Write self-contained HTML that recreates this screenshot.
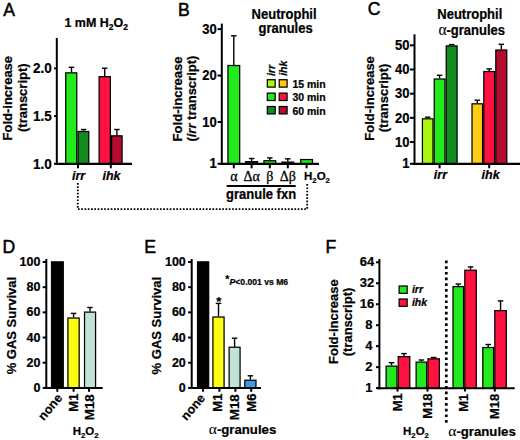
<!DOCTYPE html>
<html><head><meta charset="utf-8"><style>
html,body{margin:0;padding:0;background:#fff;}
svg{display:block;}
text{fill:#000;}
text[font-weight="bold"]{stroke:#000;stroke-width:0.22px;}
</style></head><body>
<svg width="520" height="440" viewBox="0 0 520 440">
<rect width="520" height="440" fill="#fff"/>
<text x="3.2" y="15.6" font-family="Liberation Sans" font-size="17.6" font-weight="normal" font-style="normal" text-anchor="start" stroke="#000" stroke-width="0.5">A</text>
<text x="96.2" y="27.0" font-family="Liberation Sans" font-size="12.5" font-weight="bold" font-style="normal" text-anchor="middle" transform="translate(96.2 27.0) scale(1 1.05) translate(-96.2 -27.0)" >1 mM H<tspan font-size="8.5" dy="3.0">2</tspan><tspan dy="-3.0">O</tspan><tspan font-size="8.5" dy="3.0">2</tspan></text>
<rect x="65.72" y="72.84" width="11.05" height="90.96" fill="#22ea1c" stroke="#000" stroke-width="1.25"/>
<line x1="71.5" y1="72.21600000000001" x2="71.5" y2="67.3" stroke="#000" stroke-width="1.4" />
<line x1="68.75" y1="67.3" x2="74.25" y2="67.3" stroke="#000" stroke-width="1.4" />
<rect x="78.03" y="131.51" width="10.75" height="32.29" fill="#138c1f" stroke="#000" stroke-width="1.25"/>
<line x1="83.6" y1="130.887" x2="83.6" y2="129.5" stroke="#000" stroke-width="1.4" />
<line x1="80.85" y1="129.5" x2="86.35" y2="129.5" stroke="#000" stroke-width="1.4" />
<rect x="99.12" y="76.66" width="11.25" height="87.14" fill="#ff1240" stroke="#000" stroke-width="1.25"/>
<line x1="104.7" y1="76.03200000000001" x2="104.7" y2="68.2" stroke="#000" stroke-width="1.4" />
<line x1="101.95" y1="68.2" x2="107.45" y2="68.2" stroke="#000" stroke-width="1.4" />
<rect x="111.62" y="135.81" width="10.45" height="28.00" fill="#b50c30" stroke="#000" stroke-width="1.25"/>
<line x1="116.9" y1="135.18" x2="116.9" y2="129.5" stroke="#000" stroke-width="1.4" />
<line x1="114.15" y1="129.5" x2="119.65" y2="129.5" stroke="#000" stroke-width="1.4" />
<line x1="56.8" y1="38" x2="56.8" y2="164.8" stroke="#000" stroke-width="2" />
<line x1="55.8" y1="163.8" x2="132" y2="163.8" stroke="#000" stroke-width="2.2" />
<line x1="54.0" y1="163.8" x2="56.8" y2="163.8" stroke="#000" stroke-width="2" />
<text x="51.7" y="168.66" font-family="Liberation Sans" font-size="13.5" font-weight="bold" font-style="normal" text-anchor="end" transform="translate(51.7 168.66) scale(1 1.08) translate(-51.7 -168.66)" >1.0</text>
<line x1="54.0" y1="116.10000000000001" x2="56.8" y2="116.10000000000001" stroke="#000" stroke-width="2" />
<text x="51.7" y="120.96" font-family="Liberation Sans" font-size="13.5" font-weight="bold" font-style="normal" text-anchor="end" transform="translate(51.7 120.96) scale(1 1.08) translate(-51.7 -120.96)" >1.5</text>
<line x1="54.0" y1="68.4" x2="56.8" y2="68.4" stroke="#000" stroke-width="2" />
<text x="51.7" y="73.26" font-family="Liberation Sans" font-size="13.5" font-weight="bold" font-style="normal" text-anchor="end" transform="translate(51.7 73.26) scale(1 1.08) translate(-51.7 -73.26)" >2.0</text>
<line x1="78.0" y1="163.8" x2="78.0" y2="168.3" stroke="#000" stroke-width="2" />
<line x1="110.8" y1="163.8" x2="110.8" y2="168.3" stroke="#000" stroke-width="2" />
<text x="78.6" y="179.5" font-family="Liberation Sans" font-size="12.5" font-weight="bold" font-style="italic" text-anchor="middle" >irr</text>
<text x="111.5" y="179.5" font-family="Liberation Sans" font-size="12.5" font-weight="bold" font-style="italic" text-anchor="middle" >ihk</text>
<text x="12.3" y="98.2" font-family="Liberation Sans" font-size="13" font-weight="bold" font-style="normal" text-anchor="middle" transform="rotate(-90 12.3 98.2)" >Fold-increase</text>
<text x="26.6" y="97.7" font-family="Liberation Sans" font-size="13" font-weight="bold" font-style="normal" text-anchor="middle" transform="rotate(-90 26.6 97.7)" >(transcript)</text>
<text x="178.1" y="15.6" font-family="Liberation Sans" font-size="17.6" font-weight="normal" font-style="normal" text-anchor="start" stroke="#000" stroke-width="0.5">B</text>
<text x="284.1" y="18.9" font-family="Liberation Sans" font-size="13" font-weight="bold" font-style="normal" text-anchor="middle" transform="translate(284.1 18.9) scale(1 1.1) translate(-284.1 -18.9)" >Neutrophil</text>
<text x="285.6" y="33.5" font-family="Liberation Sans" font-size="13" font-weight="bold" font-style="normal" text-anchor="middle" transform="translate(285.6 33.5) scale(1 1.1) translate(-285.6 -33.5)" >granules</text>
<rect x="227.93" y="65.51" width="11.75" height="98.29" fill="#22ea1c" stroke="#000" stroke-width="1.25"/>
<line x1="233.8" y1="64.8828" x2="233.8" y2="35.8" stroke="#000" stroke-width="1.4" />
<line x1="231.05" y1="35.8" x2="236.55" y2="35.8" stroke="#000" stroke-width="1.4" />
<rect x="245.72" y="161.64" width="11.75" height="2.16" fill="#1a3a14" stroke="#000" stroke-width="1.25"/>
<line x1="251.6" y1="161.0136" x2="251.6" y2="158.5" stroke="#000" stroke-width="1.4" />
<line x1="248.85" y1="158.5" x2="254.35" y2="158.5" stroke="#000" stroke-width="1.4" />
<rect x="263.93" y="160.71" width="11.75" height="3.09" fill="#22ea1c" stroke="#000" stroke-width="1.25"/>
<line x1="269.8" y1="160.0848" x2="269.8" y2="157.9" stroke="#000" stroke-width="1.4" />
<line x1="267.05" y1="157.9" x2="272.55" y2="157.9" stroke="#000" stroke-width="1.4" />
<rect x="281.93" y="162.10" width="11.75" height="1.70" fill="#1a3a14" stroke="#000" stroke-width="1.25"/>
<line x1="287.8" y1="161.478" x2="287.8" y2="158.8" stroke="#000" stroke-width="1.4" />
<line x1="285.05" y1="158.8" x2="290.55" y2="158.8" stroke="#000" stroke-width="1.4" />
<rect x="300.73" y="159.55" width="11.75" height="4.25" fill="#22ea1c" stroke="#000" stroke-width="1.25"/>
<line x1="221.8" y1="23.6" x2="221.8" y2="164.8" stroke="#000" stroke-width="2" />
<line x1="220.8" y1="163.8" x2="319" y2="163.8" stroke="#000" stroke-width="2.2" />
<line x1="217.60000000000002" y1="163.8" x2="221.8" y2="163.8" stroke="#000" stroke-width="2" />
<text x="216.7" y="168.48" font-family="Liberation Sans" font-size="13" font-weight="bold" font-style="normal" text-anchor="end" transform="translate(216.7 168.48) scale(1 1.08) translate(-216.7 -168.48)" >1</text>
<line x1="217.60000000000002" y1="122.00400000000002" x2="221.8" y2="122.00400000000002" stroke="#000" stroke-width="2" />
<text x="216.7" y="126.68" font-family="Liberation Sans" font-size="13" font-weight="bold" font-style="normal" text-anchor="end" transform="translate(216.7 126.68) scale(1 1.08) translate(-216.7 -126.68)" >10</text>
<line x1="217.60000000000002" y1="75.56400000000001" x2="221.8" y2="75.56400000000001" stroke="#000" stroke-width="2" />
<text x="216.7" y="80.24" font-family="Liberation Sans" font-size="13" font-weight="bold" font-style="normal" text-anchor="end" transform="translate(216.7 80.24) scale(1 1.08) translate(-216.7 -80.24)" >20</text>
<line x1="217.60000000000002" y1="29.123999999999995" x2="221.8" y2="29.123999999999995" stroke="#000" stroke-width="2" />
<text x="216.7" y="33.8" font-family="Liberation Sans" font-size="13" font-weight="bold" font-style="normal" text-anchor="end" transform="translate(216.7 33.8) scale(1 1.08) translate(-216.7 -33.8)" >30</text>
<line x1="233.8" y1="163.8" x2="233.8" y2="168.3" stroke="#000" stroke-width="2" />
<line x1="251.6" y1="163.8" x2="251.6" y2="168.3" stroke="#000" stroke-width="2" />
<line x1="269.8" y1="163.8" x2="269.8" y2="168.3" stroke="#000" stroke-width="2" />
<line x1="287.8" y1="163.8" x2="287.8" y2="168.3" stroke="#000" stroke-width="2" />
<line x1="306.6" y1="163.8" x2="306.6" y2="168.3" stroke="#000" stroke-width="2" />
<text x="233.8" y="180.8" font-family="Liberation Serif" font-size="14" font-weight="normal" font-style="normal" text-anchor="middle" stroke="#000" stroke-width="0.3">α</text>
<text x="251.6" y="180.8" font-family="Liberation Serif" font-size="14" font-weight="normal" font-style="normal" text-anchor="middle" stroke="#000" stroke-width="0.3">Δα</text>
<text x="269.8" y="180.8" font-family="Liberation Serif" font-size="14" font-weight="normal" font-style="normal" text-anchor="middle" stroke="#000" stroke-width="0.3">β</text>
<text x="287.8" y="180.8" font-family="Liberation Serif" font-size="14" font-weight="normal" font-style="normal" text-anchor="middle" stroke="#000" stroke-width="0.3">Δβ</text>
<text x="304" y="180.4" font-family="Liberation Sans" font-size="11.5" font-weight="bold" font-style="normal" text-anchor="start" >H<tspan font-size="7.8" dy="2.8">2</tspan><tspan dy="-2.8">O</tspan><tspan font-size="7.8" dy="2.8">2</tspan></text>
<line x1="226.7" y1="185.9" x2="295.7" y2="185.9" stroke="#000" stroke-width="2" />
<text x="261.1" y="199.1" font-family="Liberation Sans" font-size="13" font-weight="bold" font-style="normal" text-anchor="middle" transform="translate(261.1 199.1) scale(1 1.12) translate(-261.1 -199.1)" >granule fxn</text>
<text x="182.3" y="98.9" font-family="Liberation Sans" font-size="13.1" font-weight="bold" font-style="normal" text-anchor="middle" transform="rotate(-90 182.3 98.9)" >Fold-increase</text>
<text x="195.6" y="98.6" font-family="Liberation Sans" font-size="13" font-weight="bold" font-style="normal" text-anchor="middle" transform="rotate(-90 195.6 98.6)" >(<tspan font-style="italic">irr</tspan> transcript)</text>
<text x="275.0" y="76.1" font-family="Liberation Sans" font-size="10.5" font-weight="bold" font-style="italic" text-anchor="start" transform="rotate(-90 275.0 76.1)" >irr</text>
<text x="286.9" y="75.8" font-family="Liberation Sans" font-size="10.5" font-weight="bold" font-style="italic" text-anchor="start" transform="rotate(-90 286.9 75.8)" >ihk</text>
<rect x="267.32" y="79.72" width="7.85" height="7.38" fill="#aaf812" stroke="#000" stroke-width="1.25"/>
<rect x="279.23" y="79.72" width="7.85" height="7.38" fill="#ffcc12" stroke="#000" stroke-width="1.25"/>
<text x="292.4" y="88.0" font-family="Liberation Sans" font-size="10.5" font-weight="bold" font-style="normal" text-anchor="start" >15 min</text>
<rect x="267.32" y="93.12" width="7.85" height="7.38" fill="#22ea1c" stroke="#000" stroke-width="1.25"/>
<rect x="279.23" y="93.12" width="7.85" height="7.38" fill="#ff1240" stroke="#000" stroke-width="1.25"/>
<text x="292.4" y="101.4" font-family="Liberation Sans" font-size="10.5" font-weight="bold" font-style="normal" text-anchor="start" >30 min</text>
<rect x="267.32" y="106.53" width="7.85" height="7.38" fill="#138c1f" stroke="#000" stroke-width="1.25"/>
<rect x="279.23" y="106.53" width="7.85" height="7.38" fill="#b50c30" stroke="#000" stroke-width="1.25"/>
<text x="292.4" y="114.80000000000001" font-family="Liberation Sans" font-size="10.5" font-weight="bold" font-style="normal" text-anchor="start" >60 min</text>
<polyline points="77.8,183 77.8,209.1 307.2,209.1 307.2,183.6" fill="none" stroke="#000" stroke-width="1.8" stroke-dasharray="1.7 1.58"/>
<text x="367.8" y="15.0" font-family="Liberation Sans" font-size="17.6" font-weight="normal" font-style="normal" text-anchor="start" stroke="#000" stroke-width="0.5">C</text>
<text x="469.8" y="18.9" font-family="Liberation Sans" font-size="13" font-weight="bold" font-style="normal" text-anchor="middle" transform="translate(469.8 18.9) scale(1 1.1) translate(-469.8 -18.9)" >Neutrophil</text>
<text x="471.7" y="34.9" font-family="Liberation Sans" font-size="13" font-weight="bold" font-style="normal" text-anchor="middle" transform="translate(471.7 34.9) scale(1 1.1) translate(-471.7 -34.9)" ><tspan font-family="Liberation Serif" font-weight="normal" font-size="15.5" style="stroke-width:0.1px">α</tspan>-granules</text>
<rect x="422.43" y="118.83" width="10.55" height="44.98" fill="#aaf812" stroke="#000" stroke-width="1.25"/>
<line x1="427.70000000000005" y1="118.2" x2="427.70000000000005" y2="117.2" stroke="#000" stroke-width="1.4" />
<line x1="424.95000000000005" y1="117.2" x2="430.45000000000005" y2="117.2" stroke="#000" stroke-width="1.4" />
<rect x="434.23" y="79.03" width="10.75" height="84.78" fill="#22ea1c" stroke="#000" stroke-width="1.25"/>
<line x1="439.6" y1="78.4" x2="439.6" y2="75.3" stroke="#000" stroke-width="1.4" />
<line x1="436.85" y1="75.3" x2="442.35" y2="75.3" stroke="#000" stroke-width="1.4" />
<rect x="446.23" y="45.92" width="10.85" height="117.88" fill="#138c1f" stroke="#000" stroke-width="1.25"/>
<line x1="451.65" y1="45.3" x2="451.65" y2="44.6" stroke="#000" stroke-width="1.4" />
<line x1="448.9" y1="44.6" x2="454.4" y2="44.6" stroke="#000" stroke-width="1.4" />
<rect x="472.02" y="103.83" width="10.55" height="59.98" fill="#ffcc12" stroke="#000" stroke-width="1.25"/>
<line x1="477.29999999999995" y1="103.2" x2="477.29999999999995" y2="100.2" stroke="#000" stroke-width="1.4" />
<line x1="474.54999999999995" y1="100.2" x2="480.04999999999995" y2="100.2" stroke="#000" stroke-width="1.4" />
<rect x="483.82" y="71.53" width="10.75" height="92.28" fill="#ff1240" stroke="#000" stroke-width="1.25"/>
<line x1="489.2" y1="70.9" x2="489.2" y2="68.9" stroke="#000" stroke-width="1.4" />
<line x1="486.45" y1="68.9" x2="491.95" y2="68.9" stroke="#000" stroke-width="1.4" />
<rect x="495.82" y="50.02" width="10.95" height="113.78" fill="#b50c30" stroke="#000" stroke-width="1.25"/>
<line x1="501.29999999999995" y1="49.4" x2="501.29999999999995" y2="44.3" stroke="#000" stroke-width="1.4" />
<line x1="498.54999999999995" y1="44.3" x2="504.04999999999995" y2="44.3" stroke="#000" stroke-width="1.4" />
<line x1="414.5" y1="34.3" x2="414.5" y2="164.8" stroke="#000" stroke-width="2" />
<line x1="413.5" y1="163.8" x2="520" y2="163.8" stroke="#000" stroke-width="2.2" />
<line x1="410.0" y1="163.8" x2="414.5" y2="163.8" stroke="#000" stroke-width="2" />
<text x="409.4" y="168.48" font-family="Liberation Sans" font-size="13" font-weight="bold" font-style="normal" text-anchor="end" transform="translate(409.4 168.48) scale(1 1.08) translate(-409.4 -168.48)" >1</text>
<line x1="410.0" y1="142.038" x2="414.5" y2="142.038" stroke="#000" stroke-width="2" />
<text x="409.4" y="146.72" font-family="Liberation Sans" font-size="13" font-weight="bold" font-style="normal" text-anchor="end" transform="translate(409.4 146.72) scale(1 1.08) translate(-409.4 -146.72)" >10</text>
<line x1="410.0" y1="117.858" x2="414.5" y2="117.858" stroke="#000" stroke-width="2" />
<text x="409.4" y="122.54" font-family="Liberation Sans" font-size="13" font-weight="bold" font-style="normal" text-anchor="end" transform="translate(409.4 122.54) scale(1 1.08) translate(-409.4 -122.54)" >20</text>
<line x1="410.0" y1="93.67800000000001" x2="414.5" y2="93.67800000000001" stroke="#000" stroke-width="2" />
<text x="409.4" y="98.36" font-family="Liberation Sans" font-size="13" font-weight="bold" font-style="normal" text-anchor="end" transform="translate(409.4 98.36) scale(1 1.08) translate(-409.4 -98.36)" >30</text>
<line x1="410.0" y1="69.498" x2="414.5" y2="69.498" stroke="#000" stroke-width="2" />
<text x="409.4" y="74.18" font-family="Liberation Sans" font-size="13" font-weight="bold" font-style="normal" text-anchor="end" transform="translate(409.4 74.18) scale(1 1.08) translate(-409.4 -74.18)" >40</text>
<line x1="410.0" y1="45.318" x2="414.5" y2="45.318" stroke="#000" stroke-width="2" />
<text x="409.4" y="50.0" font-family="Liberation Sans" font-size="13" font-weight="bold" font-style="normal" text-anchor="end" transform="translate(409.4 50.0) scale(1 1.08) translate(-409.4 -50.0)" >50</text>
<line x1="439.6" y1="163.8" x2="439.6" y2="168.3" stroke="#000" stroke-width="2" />
<line x1="489.2" y1="163.8" x2="489.2" y2="168.3" stroke="#000" stroke-width="2" />
<text x="440.4" y="179.3" font-family="Liberation Sans" font-size="12.5" font-weight="bold" font-style="italic" text-anchor="middle" >irr</text>
<text x="490.6" y="179.3" font-family="Liberation Sans" font-size="12.5" font-weight="bold" font-style="italic" text-anchor="middle" >ihk</text>
<text x="374.2" y="98.4" font-family="Liberation Sans" font-size="13" font-weight="bold" font-style="normal" text-anchor="middle" transform="rotate(-90 374.2 98.4)" >Fold-increase</text>
<text x="388.3" y="97.9" font-family="Liberation Sans" font-size="13" font-weight="bold" font-style="normal" text-anchor="middle" transform="rotate(-90 388.3 97.9)" >(transcript)</text>
<text x="2.6" y="253" font-family="Liberation Sans" font-size="17.6" font-weight="normal" font-style="normal" text-anchor="start" stroke="#000" stroke-width="0.5">D</text>
<rect x="51.52" y="261.87" width="11.75" height="126.13" fill="#000" stroke="#000" stroke-width="1.25"/>
<rect x="67.92" y="318.02" width="11.25" height="69.98" fill="#fcfc12" stroke="#000" stroke-width="1.25"/>
<line x1="73.6" y1="317.39599999999996" x2="73.6" y2="313.4" stroke="#000" stroke-width="1.4" />
<line x1="70.85" y1="313.4" x2="76.35" y2="313.4" stroke="#000" stroke-width="1.4" />
<rect x="84.53" y="312.10" width="11.05" height="75.90" fill="#c2e2d8" stroke="#000" stroke-width="1.25"/>
<line x1="90.0" y1="311.4787" x2="90.0" y2="307.5" stroke="#000" stroke-width="1.4" />
<line x1="87.25" y1="307.5" x2="92.75" y2="307.5" stroke="#000" stroke-width="1.4" />
<line x1="46.3" y1="259" x2="46.3" y2="389.0" stroke="#000" stroke-width="2" />
<line x1="45.3" y1="388.0" x2="102.7" y2="388.0" stroke="#000" stroke-width="2.2" />
<line x1="42.699999999999996" y1="387.9" x2="46.3" y2="387.9" stroke="#000" stroke-width="2" />
<text x="40.4" y="391.9" font-family="Liberation Sans" font-size="12.5" font-weight="bold" font-style="normal" text-anchor="end" transform="translate(40.4 391.9) scale(1 1.06) translate(-40.4 -391.9)" >0</text>
<line x1="42.699999999999996" y1="362.71999999999997" x2="46.3" y2="362.71999999999997" stroke="#000" stroke-width="2" />
<text x="40.4" y="366.72" font-family="Liberation Sans" font-size="12.5" font-weight="bold" font-style="normal" text-anchor="end" transform="translate(40.4 366.72) scale(1 1.06) translate(-40.4 -366.72)" >20</text>
<line x1="42.699999999999996" y1="337.53999999999996" x2="46.3" y2="337.53999999999996" stroke="#000" stroke-width="2" />
<text x="40.4" y="341.54" font-family="Liberation Sans" font-size="12.5" font-weight="bold" font-style="normal" text-anchor="end" transform="translate(40.4 341.54) scale(1 1.06) translate(-40.4 -341.54)" >40</text>
<line x1="42.699999999999996" y1="312.36" x2="46.3" y2="312.36" stroke="#000" stroke-width="2" />
<text x="40.4" y="316.36" font-family="Liberation Sans" font-size="12.5" font-weight="bold" font-style="normal" text-anchor="end" transform="translate(40.4 316.36) scale(1 1.06) translate(-40.4 -316.36)" >60</text>
<line x1="42.699999999999996" y1="287.17999999999995" x2="46.3" y2="287.17999999999995" stroke="#000" stroke-width="2" />
<text x="40.4" y="291.18" font-family="Liberation Sans" font-size="12.5" font-weight="bold" font-style="normal" text-anchor="end" transform="translate(40.4 291.18) scale(1 1.06) translate(-40.4 -291.18)" >80</text>
<line x1="42.699999999999996" y1="262.0" x2="46.3" y2="262.0" stroke="#000" stroke-width="2" />
<text x="40.4" y="266.0" font-family="Liberation Sans" font-size="12.5" font-weight="bold" font-style="normal" text-anchor="end" transform="translate(40.4 266.0) scale(1 1.06) translate(-40.4 -266.0)" >100</text>
<line x1="57.3" y1="388.0" x2="57.3" y2="391.8" stroke="#000" stroke-width="2" />
<line x1="73.6" y1="388.0" x2="73.6" y2="391.8" stroke="#000" stroke-width="2" />
<line x1="89.0" y1="388.0" x2="89.0" y2="391.8" stroke="#000" stroke-width="2" />
<text x="63.0" y="398.3" font-family="Liberation Sans" font-size="12.5" font-weight="bold" font-style="normal" text-anchor="end" transform="rotate(-50 63.0 398.3)" >none</text>
<text x="78.0" y="393.6" font-family="Liberation Sans" font-size="13" font-weight="bold" font-style="normal" text-anchor="end" transform="rotate(-90 78.0 393.6)" >M1</text>
<text x="93.6" y="394.2" font-family="Liberation Sans" font-size="13.4" font-weight="bold" font-style="normal" text-anchor="end" transform="rotate(-90 93.6 394.2)" >M18</text>
<text x="72.7" y="435" font-family="Liberation Sans" font-size="11.5" font-weight="bold" font-style="normal" text-anchor="start" >H<tspan font-size="7.8" dy="2.8">2</tspan><tspan dy="-2.8">O</tspan><tspan font-size="7.8" dy="2.8">2</tspan></text>
<text x="16.5" y="325.6" font-family="Liberation Sans" font-size="13" font-weight="bold" font-style="normal" text-anchor="middle" transform="rotate(-90 16.5 325.6)" >% GAS Survival</text>
<text x="144.2" y="253" font-family="Liberation Sans" font-size="17.6" font-weight="normal" font-style="normal" text-anchor="start" stroke="#000" stroke-width="0.5">E</text>
<rect x="197.53" y="261.87" width="11.15" height="126.13" fill="#000" stroke="#000" stroke-width="1.25"/>
<rect x="212.93" y="317.01" width="11.15" height="70.99" fill="#fcfc12" stroke="#000" stroke-width="1.25"/>
<line x1="218.5" y1="316.3888" x2="218.5" y2="303.4" stroke="#000" stroke-width="1.4" />
<line x1="215.75" y1="303.4" x2="221.25" y2="303.4" stroke="#000" stroke-width="1.4" />
<rect x="229.12" y="347.23" width="10.95" height="40.77" fill="#c2e2d8" stroke="#000" stroke-width="1.25"/>
<line x1="234.6" y1="346.98249999999996" x2="234.6" y2="338.2" stroke="#000" stroke-width="1.4" />
<line x1="231.85" y1="338.2" x2="237.35" y2="338.2" stroke="#000" stroke-width="1.4" />
<rect x="244.82" y="380.22" width="11.15" height="7.78" fill="#3d9ae8" stroke="#000" stroke-width="1.25"/>
<line x1="250.4" y1="379.5906" x2="250.4" y2="375.8" stroke="#000" stroke-width="1.4" />
<line x1="247.65" y1="375.8" x2="253.15" y2="375.8" stroke="#000" stroke-width="1.4" />
<line x1="191.7" y1="259" x2="191.7" y2="389.0" stroke="#000" stroke-width="2" />
<line x1="190.7" y1="388.0" x2="261" y2="388.0" stroke="#000" stroke-width="2.2" />
<line x1="188.1" y1="387.9" x2="191.7" y2="387.9" stroke="#000" stroke-width="2" />
<text x="185.8" y="391.9" font-family="Liberation Sans" font-size="12.5" font-weight="bold" font-style="normal" text-anchor="end" transform="translate(185.8 391.9) scale(1 1.06) translate(-185.8 -391.9)" >0</text>
<line x1="188.1" y1="362.71999999999997" x2="191.7" y2="362.71999999999997" stroke="#000" stroke-width="2" />
<text x="185.8" y="366.72" font-family="Liberation Sans" font-size="12.5" font-weight="bold" font-style="normal" text-anchor="end" transform="translate(185.8 366.72) scale(1 1.06) translate(-185.8 -366.72)" >20</text>
<line x1="188.1" y1="337.53999999999996" x2="191.7" y2="337.53999999999996" stroke="#000" stroke-width="2" />
<text x="185.8" y="341.54" font-family="Liberation Sans" font-size="12.5" font-weight="bold" font-style="normal" text-anchor="end" transform="translate(185.8 341.54) scale(1 1.06) translate(-185.8 -341.54)" >40</text>
<line x1="188.1" y1="312.36" x2="191.7" y2="312.36" stroke="#000" stroke-width="2" />
<text x="185.8" y="316.36" font-family="Liberation Sans" font-size="12.5" font-weight="bold" font-style="normal" text-anchor="end" transform="translate(185.8 316.36) scale(1 1.06) translate(-185.8 -316.36)" >60</text>
<line x1="188.1" y1="287.17999999999995" x2="191.7" y2="287.17999999999995" stroke="#000" stroke-width="2" />
<text x="185.8" y="291.18" font-family="Liberation Sans" font-size="12.5" font-weight="bold" font-style="normal" text-anchor="end" transform="translate(185.8 291.18) scale(1 1.06) translate(-185.8 -291.18)" >80</text>
<line x1="188.1" y1="262.0" x2="191.7" y2="262.0" stroke="#000" stroke-width="2" />
<text x="185.8" y="266.0" font-family="Liberation Sans" font-size="12.5" font-weight="bold" font-style="normal" text-anchor="end" transform="translate(185.8 266.0) scale(1 1.06) translate(-185.8 -266.0)" >100</text>
<line x1="203" y1="388.0" x2="203" y2="391.8" stroke="#000" stroke-width="2" />
<line x1="219.4" y1="388.0" x2="219.4" y2="391.8" stroke="#000" stroke-width="2" />
<line x1="235.4" y1="388.0" x2="235.4" y2="391.8" stroke="#000" stroke-width="2" />
<line x1="251.2" y1="388.0" x2="251.2" y2="391.8" stroke="#000" stroke-width="2" />
<text x="205.8" y="398.3" font-family="Liberation Sans" font-size="12.5" font-weight="bold" font-style="normal" text-anchor="end" transform="rotate(-50 205.8 398.3)" >none</text>
<text x="222.3" y="393.6" font-family="Liberation Sans" font-size="13" font-weight="bold" font-style="normal" text-anchor="end" transform="rotate(-90 222.3 393.6)" >M1</text>
<text x="238.9" y="394.2" font-family="Liberation Sans" font-size="13.4" font-weight="bold" font-style="normal" text-anchor="end" transform="rotate(-90 238.9 394.2)" >M18</text>
<text x="255.6" y="393.6" font-family="Liberation Sans" font-size="13" font-weight="bold" font-style="normal" text-anchor="end" transform="rotate(-90 255.6 393.6)" >M6</text>
<text x="218.9" y="306.2" font-family="Liberation Sans" font-size="13" font-weight="bold" font-style="normal" text-anchor="middle" >*</text>
<text x="227.2" y="282.8" font-family="Liberation Sans" font-size="10.5" font-weight="bold" font-style="normal" text-anchor="middle" >*</text>
<text x="229.6" y="284.6" font-family="Liberation Sans" font-size="8.6" font-weight="bold" font-style="normal" text-anchor="start" ><tspan font-style="italic">P</tspan>&lt;0.001 vs M6</text>
<text x="242.5" y="434.4" font-family="Liberation Sans" font-size="13.2" font-weight="bold" font-style="normal" text-anchor="middle" ><tspan font-family="Liberation Serif" font-weight="normal" font-size="15.5" style="stroke-width:0.1px">α</tspan>-granules</text>
<text x="161.2" y="325.6" font-family="Liberation Sans" font-size="13" font-weight="bold" font-style="normal" text-anchor="middle" transform="rotate(-90 161.2 325.6)" >% GAS Survival</text>
<text x="325.6" y="253" font-family="Liberation Sans" font-size="17.6" font-weight="normal" font-style="normal" text-anchor="start" stroke="#000" stroke-width="0.5">F</text>
<rect x="386.12" y="366.12" width="10.85" height="22.18" fill="#22ea1c" stroke="#000" stroke-width="1.25"/>
<line x1="391.55" y1="365.5" x2="391.55" y2="362.7" stroke="#000" stroke-width="1.4" />
<line x1="388.8" y1="362.7" x2="394.3" y2="362.7" stroke="#000" stroke-width="1.4" />
<rect x="398.23" y="356.62" width="11.55" height="31.68" fill="#ff1240" stroke="#000" stroke-width="1.25"/>
<line x1="404.0" y1="356" x2="404.0" y2="353.6" stroke="#000" stroke-width="1.4" />
<line x1="401.25" y1="353.6" x2="406.75" y2="353.6" stroke="#000" stroke-width="1.4" />
<rect x="416.12" y="362.12" width="10.55" height="26.18" fill="#22ea1c" stroke="#000" stroke-width="1.25"/>
<line x1="421.4" y1="361.5" x2="421.4" y2="360.0" stroke="#000" stroke-width="1.4" />
<line x1="418.65" y1="360.0" x2="424.15" y2="360.0" stroke="#000" stroke-width="1.4" />
<rect x="427.93" y="358.82" width="11.45" height="29.48" fill="#ff1240" stroke="#000" stroke-width="1.25"/>
<line x1="433.65" y1="358.2" x2="433.65" y2="357.5" stroke="#000" stroke-width="1.4" />
<line x1="430.9" y1="357.5" x2="436.4" y2="357.5" stroke="#000" stroke-width="1.4" />
<rect x="453.02" y="286.62" width="10.55" height="101.68" fill="#22ea1c" stroke="#000" stroke-width="1.25"/>
<line x1="458.29999999999995" y1="286" x2="458.29999999999995" y2="284" stroke="#000" stroke-width="1.4" />
<line x1="455.54999999999995" y1="284" x2="461.04999999999995" y2="284" stroke="#000" stroke-width="1.4" />
<rect x="464.82" y="270.23" width="11.45" height="118.07" fill="#ff1240" stroke="#000" stroke-width="1.25"/>
<line x1="470.54999999999995" y1="269.6" x2="470.54999999999995" y2="266.9" stroke="#000" stroke-width="1.4" />
<line x1="467.79999999999995" y1="266.9" x2="473.29999999999995" y2="266.9" stroke="#000" stroke-width="1.4" />
<rect x="482.82" y="347.52" width="10.75" height="40.78" fill="#22ea1c" stroke="#000" stroke-width="1.25"/>
<line x1="488.2" y1="346.9" x2="488.2" y2="344.5" stroke="#000" stroke-width="1.4" />
<line x1="485.45" y1="344.5" x2="490.95" y2="344.5" stroke="#000" stroke-width="1.4" />
<rect x="494.82" y="310.62" width="11.45" height="77.68" fill="#ff1240" stroke="#000" stroke-width="1.25"/>
<line x1="500.54999999999995" y1="310" x2="500.54999999999995" y2="300.9" stroke="#000" stroke-width="1.4" />
<line x1="497.79999999999995" y1="300.9" x2="503.29999999999995" y2="300.9" stroke="#000" stroke-width="1.4" />
<line x1="379.4" y1="259" x2="379.4" y2="389.3" stroke="#000" stroke-width="2" />
<line x1="377" y1="388.3" x2="514.7" y2="388.3" stroke="#000" stroke-width="2" />
<line x1="376.0" y1="388.1" x2="379.4" y2="388.1" stroke="#000" stroke-width="2" />
<text x="372.5" y="392.0" font-family="Liberation Sans" font-size="13" font-weight="bold" font-style="normal" text-anchor="end" >1</text>
<line x1="376.0" y1="367.13" x2="379.4" y2="367.13" stroke="#000" stroke-width="2" />
<text x="372.5" y="371.03" font-family="Liberation Sans" font-size="13" font-weight="bold" font-style="normal" text-anchor="end" >2</text>
<line x1="376.0" y1="346.16" x2="379.4" y2="346.16" stroke="#000" stroke-width="2" />
<text x="372.5" y="350.06" font-family="Liberation Sans" font-size="13" font-weight="bold" font-style="normal" text-anchor="end" >4</text>
<line x1="376.0" y1="325.19000000000005" x2="379.4" y2="325.19000000000005" stroke="#000" stroke-width="2" />
<text x="372.5" y="329.09" font-family="Liberation Sans" font-size="13" font-weight="bold" font-style="normal" text-anchor="end" >8</text>
<line x1="376.0" y1="304.22" x2="379.4" y2="304.22" stroke="#000" stroke-width="2" />
<text x="374.3" y="308.12" font-family="Liberation Sans" font-size="13" font-weight="bold" font-style="normal" text-anchor="end" >16</text>
<line x1="376.0" y1="283.25" x2="379.4" y2="283.25" stroke="#000" stroke-width="2" />
<text x="374.3" y="287.15" font-family="Liberation Sans" font-size="13" font-weight="bold" font-style="normal" text-anchor="end" >32</text>
<line x1="376.0" y1="262.28000000000003" x2="379.4" y2="262.28000000000003" stroke="#000" stroke-width="2" />
<text x="374.3" y="266.18" font-family="Liberation Sans" font-size="13" font-weight="bold" font-style="normal" text-anchor="end" >64</text>
<line x1="397.5" y1="388.3" x2="397.5" y2="391.6" stroke="#000" stroke-width="2" />
<line x1="427.5" y1="388.3" x2="427.5" y2="391.6" stroke="#000" stroke-width="2" />
<line x1="465" y1="388.3" x2="465" y2="391.6" stroke="#000" stroke-width="2" />
<line x1="494.8" y1="388.3" x2="494.8" y2="391.6" stroke="#000" stroke-width="2" />
<text x="401.6" y="393.2" font-family="Liberation Sans" font-size="13" font-weight="bold" font-style="normal" text-anchor="end" transform="rotate(-90 401.6 393.2)" >M1</text>
<text x="431.6" y="393.4" font-family="Liberation Sans" font-size="13" font-weight="bold" font-style="normal" text-anchor="end" transform="rotate(-90 431.6 393.4)" >M18</text>
<text x="468.3" y="393.8" font-family="Liberation Sans" font-size="13" font-weight="bold" font-style="normal" text-anchor="end" transform="rotate(-90 468.3 393.8)" >M1</text>
<text x="499.4" y="393.8" font-family="Liberation Sans" font-size="13" font-weight="bold" font-style="normal" text-anchor="end" transform="rotate(-90 499.4 393.8)" >M18</text>
<line x1="446.3" y1="260.5" x2="446.3" y2="423" stroke="#000" stroke-width="2.7" stroke-dasharray="2.7 3.0"/>
<rect x="399.12" y="286.02" width="8.05" height="7.28" fill="#22ea1c" stroke="#000" stroke-width="1.25"/>
<rect x="399.12" y="299.02" width="8.05" height="7.28" fill="#ff1240" stroke="#000" stroke-width="1.25"/>
<text x="411.9" y="293.3" font-family="Liberation Sans" font-size="10.5" font-weight="bold" font-style="italic" text-anchor="start" >irr</text>
<text x="411.9" y="306.3" font-family="Liberation Sans" font-size="10.5" font-weight="bold" font-style="italic" text-anchor="start" >ihk</text>
<text x="403" y="435.3" font-family="Liberation Sans" font-size="11.5" font-weight="bold" font-style="normal" text-anchor="start" >H<tspan font-size="7.8" dy="2.8">2</tspan><tspan dy="-2.8">O</tspan><tspan font-size="7.8" dy="2.8">2</tspan></text>
<text x="482" y="435.8" font-family="Liberation Sans" font-size="13.2" font-weight="bold" font-style="normal" text-anchor="middle" ><tspan font-family="Liberation Serif" font-weight="normal" font-size="15.5" style="stroke-width:0.1px">α</tspan>-granules</text>
<text x="337.7" y="321.6" font-family="Liberation Sans" font-size="13" font-weight="bold" font-style="normal" text-anchor="middle" transform="rotate(-90 337.7 321.6)" >Fold-increase</text>
<text x="352.0" y="322.0" font-family="Liberation Sans" font-size="13" font-weight="bold" font-style="normal" text-anchor="middle" transform="rotate(-90 352.0 322.0)" >(transcript)</text>
</svg>
</body></html>
